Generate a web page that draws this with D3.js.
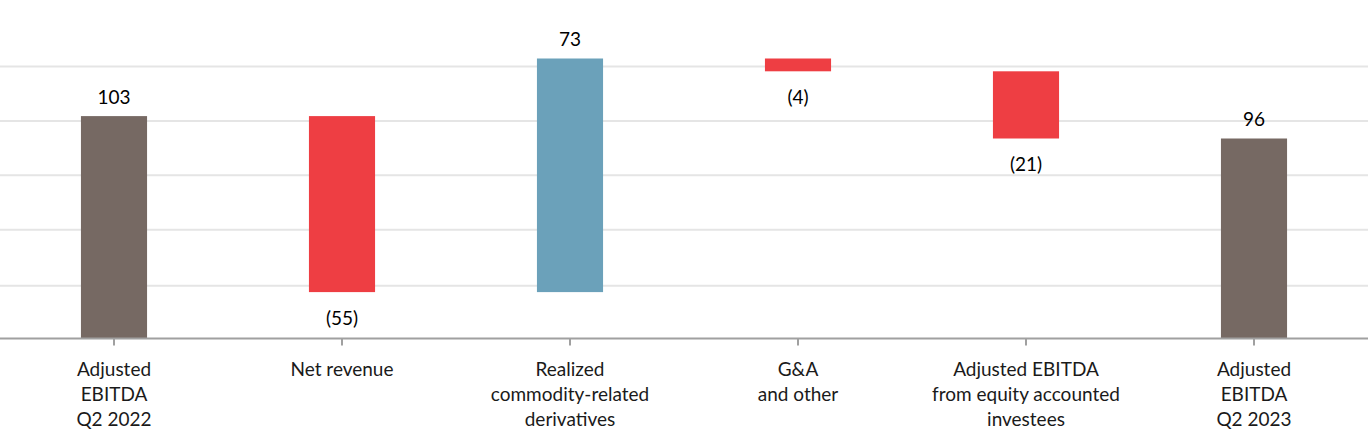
<!DOCTYPE html>
<html><head><meta charset="utf-8">
<script src="https://cdn.jsdelivr.net/npm/d3@7"></script>
<style>
html,body{margin:0;padding:0;background:#fff;}
svg{display:block;}
text{font-family:Lato,"Open Sans",sans-serif;}
</style></head>
<body><svg id="chart" width="1368" height="430"></svg>
<script>
const categories = [
  ["Adjusted","EBITDA","Q2 2022"],
  ["Net revenue"],
  ["Realized","commodity-related","derivatives"],
  ["G&A","and other"],
  ["Adjusted EBITDA","from equity accounted","investees"],
  ["Adjusted","EBITDA","Q2 2023"]
];
const values = [103, -55, 73, -4, -21, 96];
const kinds = ["total","delta","delta","delta","delta","total"];
const valueLabels = ["103","(55)","73","(4)","(21)","96"];
const gridValues = [50, 67.5, 84.5, 101.5, 118.5];
const yDomain = [33.5, 121];

const colors = {total:"#766963", neg:"#EE3E43", pos:"#6BA1BA"};
const svg = d3.select("#chart");
const W = 1368;
const x = d3.scaleBand().domain(d3.range(categories.length)).range([0, W]).paddingInner(0.71).paddingOuter(0.355);
const y = d3.scaleLinear().domain(yDomain).range([338.5, 58.5]);

let running = 0;
const bars = values.map((v,i)=>{
  let lo, hi;
  if (kinds[i]==="total"){ lo = yDomain[0]; hi = v; running = v; }
  else { const start = running; running = start + v; lo = Math.min(start, running); hi = Math.max(start, running); }
  return {i, v, lo, hi, kind: kinds[i], label: valueLabels[i]};
});

svg.append("g").selectAll("line").data(gridValues).join("line")
  .attr("x1",0).attr("x2",W)
  .attr("y1",d=>y(d)).attr("y2",d=>y(d))
  .attr("stroke","#e5e5e5").attr("stroke-width",2);

svg.append("g").selectAll("rect").data(bars).join("rect")
  .attr("x",d=>x(d.i)).attr("width",x.bandwidth())
  .attr("y",d=>y(d.hi)).attr("height",d=>y(d.lo)-y(d.hi))
  .attr("fill",d=>d.kind==="total"?colors.total:(d.v<0?colors.neg:colors.pos));

const axis = d3.axisBottom(x).tickSize(7).tickFormat("");
const ag = svg.append("g").attr("transform","translate(0,338.5)").call(axis);
ag.select(".domain").attr("d",`M0,0H${W}`).attr("stroke","#a0a0a0").attr("stroke-width",2);
ag.selectAll(".tick line").attr("stroke","#a0a0a0").attr("stroke-width",2);

svg.append("g").selectAll("text").data(bars).join("text")
  .attr("x",d=>x(d.i)+x.bandwidth()/2)
  .attr("y",d=> d.v<0 ? y(d.lo)+26 : y(d.hi)-19)
  .attr("dy","0.35em")
  .attr("text-anchor","middle")
  .attr("font-size",19).attr("fill","#000")
  .text(d=>d.label);

const cg = svg.append("g").selectAll("text").data(categories).join("text")
  .attr("text-anchor","middle").attr("font-size",19).attr("fill","#1a1a1a")
  .attr("x",(d,i)=>x(i)+x.bandwidth()/2);
cg.selectAll("tspan").data(d=>d).join("tspan")
  .attr("x",function(){return this.parentNode.getAttribute("x");})
  .attr("y",(d,j)=>369+j*25).attr("dy","0.35em")
  .text(d=>d);
</script></body></html>
